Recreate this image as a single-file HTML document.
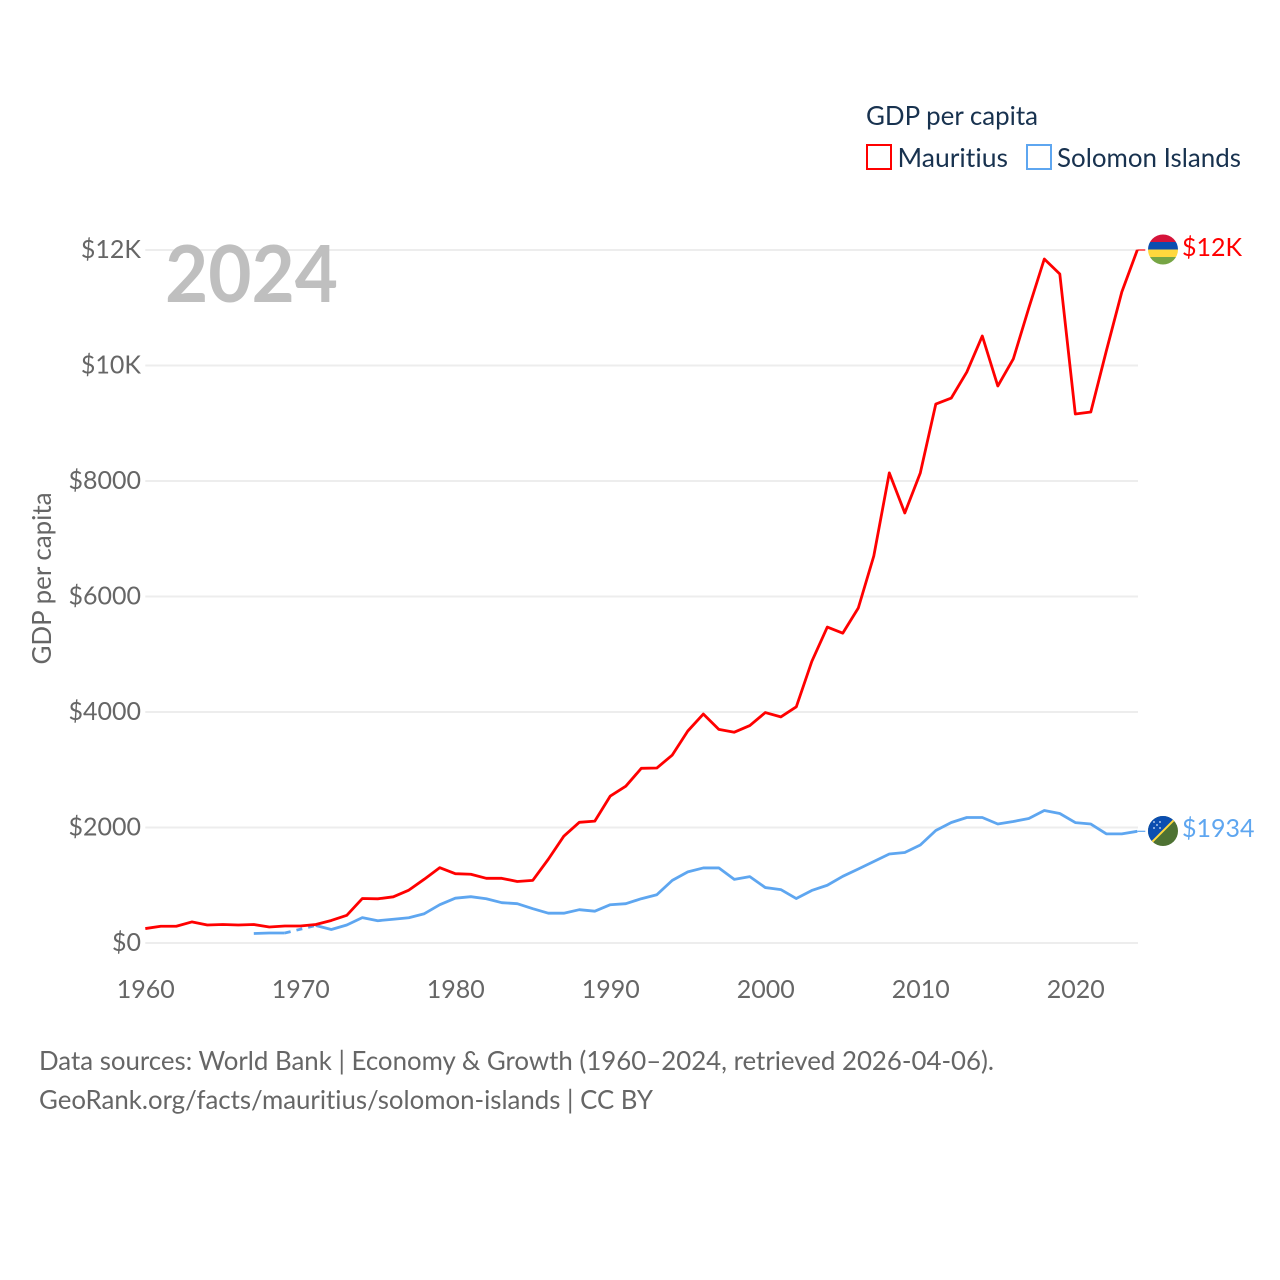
<!DOCTYPE html>
<html lang="en">
<head>
<meta charset="utf-8">
<title>GDP per capita: Mauritius and Solomon Islands</title>
<style>
html,body{margin:0;padding:0;background:#fff;width:1280px;height:1280px;overflow:hidden}
svg{display:block}
text{font-family:"Lato","Carlito","Liberation Sans",sans-serif;font-variant-ligatures:none;letter-spacing:0.001px}
</style>
</head>
<body>
<svg id="chart" xmlns="http://www.w3.org/2000/svg" width="1280" height="1280" viewBox="0 0 1280 1280">
  <defs>
    <clipPath id="clip-mu"><circle cx="1163" cy="249.5" r="15"/></clipPath>
    <clipPath id="clip-sb"><circle cx="1163" cy="831" r="15"/></clipPath>
  </defs>
  <g id="grid"></g>
  <g id="yticks"></g>
  <g id="xticks"></g>
  <text x="165" y="302" font-size="79" font-weight="700" fill="#bfbfbf" textLength="173" lengthAdjust="spacingAndGlyphs">2024</text>
  <text transform="translate(51,664.5) rotate(-90)" font-size="26" fill="#666" textLength="172" lengthAdjust="spacingAndGlyphs">GDP per capita</text>
  <g id="series"></g>

  <g>
    <text x="866" y="125" font-size="26" fill="#18324f" textLength="172" lengthAdjust="spacingAndGlyphs">GDP per capita</text>
    <g>
      <rect x="867" y="145" width="24" height="24" fill="#fff" stroke="#ff0000" stroke-width="2"/>
      <text x="897.5" y="167" font-size="26" fill="#18324f" textLength="110.5" lengthAdjust="spacingAndGlyphs">Mauritius</text>
    </g>
    <g>
      <rect x="1027" y="145" width="24" height="24" fill="#fff" stroke="#5ea6f0" stroke-width="2"/>
      <text x="1057" y="167" font-size="26" fill="#18324f" textLength="184" lengthAdjust="spacingAndGlyphs">Solomon Islands</text>
    </g>
  </g>

  <g clip-path="url(#clip-mu)">
    <rect x="1148" y="234.5" width="30" height="7.5" fill="#d5133a"/>
    <rect x="1148" y="242" width="30" height="7.5" fill="#0b4eb0"/>
    <rect x="1148" y="249.5" width="30" height="7.5" fill="#ffd83d"/>
    <rect x="1148" y="257" width="30" height="7.5" fill="#76a544"/>
  </g>
  <text x="1182" y="256" font-size="25" fill="#ff0000">$12K</text>

  <g clip-path="url(#clip-sb)">
    <rect x="1148" y="816" width="30" height="30" fill="#4e7233"/>
    <polygon points="1148,816 1178,816 1148,846" fill="#0b4eb0"/>
    <line x1="1148" y1="846" x2="1178" y2="816" stroke="#ffd83d" stroke-width="2"/>
    <g fill="#d8e6f7">
      <circle cx="1154" cy="822" r="0.9"/><circle cx="1160" cy="822" r="0.9"/><circle cx="1157" cy="825" r="0.9"/><circle cx="1154" cy="828" r="0.9"/><circle cx="1160" cy="828" r="0.9"/>
    </g>
  </g>
  <text x="1182" y="837" font-size="25" fill="#5ea6f0">$1934</text>

  <text x="39" y="1070" font-size="26" fill="#666" textLength="955" lengthAdjust="spacingAndGlyphs">Data sources: World Bank | Economy &amp; Growth (1960–2024, retrieved 2026-04-06).</text>
  <text x="39" y="1109" font-size="26" fill="#666" textLength="614" lengthAdjust="spacingAndGlyphs">GeoRank.org/facts/mauritius/solomon-islands | CC BY</text>
</svg>
<script>
const years = [1960,1961,1962,1963,1964,1965,1966,1967,1968,1969,1970,1971,1972,1973,1974,1975,1976,1977,1978,1979,1980,1981,1982,1983,1984,1985,1986,1987,1988,1989,1990,1991,1992,1993,1994,1995,1996,1997,1998,1999,2000,2001,2002,2003,2004,2005,2006,2007,2008,2009,2010,2011,2012,2013,2014,2015,2016,2017,2018,2019,2020,2021,2022,2023,2024];
const mauritiusValues = [250,290,290,365,312,320,312,320,277,294,294,320,390,480,770,765,800,915,1105,1305,1200,1190,1120,1120,1065,1085,1450,1850,2090,2110,2545,2715,3025,3030,3255,3671,3965,3700,3650,3765,3990,3915,4090,4875,5470,5365,5801,6701,8140,7446,8139,9333,9437,9887,10511,9645,10113,10996,11844,11584,9160,9195,10251,11273,12000];
const solomonValues = [null,null,null,null,null,null,null,165,173,173,null,303,234,312,440,386,412,438,507,663,776,802,767,698,681,594,516,516,577,551,663,681,767,836,1085,1232,1300,1300,1102,1150,960,925,770,910,1000,1155,1281,1411,1541,1567,1697,1948,2087,2173,2173,2061,2104,2156,2294,2242,2085,2060,1890,1890,1934];
const yTickValues = [0,2000,4000,6000,8000,10000,12000];
const yTickLabels = ["$0","$2000","$4000","$6000","$8000","$10K","$12K"];
const xTickValues = [1960,1970,1980,1990,2000,2010,2020];
const xTickLabels = ["1960","1970","1980","1990","2000","2010","2020"];

const NS = "http://www.w3.org/2000/svg";
const xScale = function (year) { return 145.3 + (year - 1960) * 15.5; };
const yScale = function (value) { return 943 - value * 0.05775; };

const gridGroup = document.getElementById("grid");
const yTickGroup = document.getElementById("yticks");
const xTickGroup = document.getElementById("xticks");
const seriesGroup = document.getElementById("series");

yTickValues.forEach(function (value, i) {
  const line = document.createElementNS(NS, "line");
  
  
  line.setAttribute("x1", xScale(1960));
  line.setAttribute("x2", xScale(2024) + 0.7);
  line.setAttribute("y1", yScale(value));
  line.setAttribute("y2", yScale(value));
  line.setAttribute("stroke", "#ededed");
  line.setAttribute("stroke-width", "2");
  gridGroup.appendChild(line);

  const label = document.createElementNS(NS, "text");
  
  
  label.setAttribute("x", 141);
  label.setAttribute("y", yScale(value) + 8);
  label.setAttribute("text-anchor", "end");
  label.setAttribute("font-size", "25");
  label.setAttribute("fill", "#666");
  label.textContent = yTickLabels[i];
  yTickGroup.appendChild(label);
});

xTickValues.forEach(function (value, i) {
  const label = document.createElementNS(NS, "text");
  
  
  label.setAttribute("x", xScale(value) + 0.4);
  label.setAttribute("y", 998);
  label.setAttribute("text-anchor", "middle");
  label.setAttribute("font-size", "25");
  label.setAttribute("fill", "#666");
  label.textContent = xTickLabels[i];
  xTickGroup.appendChild(label);
});

function solidPath(values) {
  let d = "";
  let penDown = false;
  values.forEach(function (v, i) {
    if (v === null) { penDown = false; return; }
    d += (penDown ? "L" : "M") + xScale(years[i]).toFixed(2) + " " + yScale(v).toFixed(2);
    penDown = true;
  });
  return d;
}

function gapPath(values) {
  let d = "";
  let last = -1;
  values.forEach(function (v, i) {
    if (v === null) { return; }
    if (last >= 0 && i - last > 1) {
      d += "M" + xScale(years[last]).toFixed(2) + " " + yScale(values[last]).toFixed(2) +
           "L" + xScale(years[i]).toFixed(2) + " " + yScale(v).toFixed(2);
    }
    last = i;
  });
  return d;
}

const gapSolomon = document.createElementNS(NS, "path");


gapSolomon.setAttribute("d", gapPath(solomonValues));
gapSolomon.setAttribute("fill", "none");
gapSolomon.setAttribute("stroke", "#5ea6f0");
gapSolomon.setAttribute("stroke-width", "2.8");
gapSolomon.setAttribute("stroke-dasharray", "6 6");
seriesGroup.appendChild(gapSolomon);

const lineSolomon = document.createElementNS(NS, "path");


lineSolomon.setAttribute("d", solidPath(solomonValues));
lineSolomon.setAttribute("fill", "none");
lineSolomon.setAttribute("stroke", "#5ea6f0");
lineSolomon.setAttribute("stroke-width", "2.8");
lineSolomon.setAttribute("stroke-linejoin", "round");
seriesGroup.appendChild(lineSolomon);

const lineMauritius = document.createElementNS(NS, "path");


lineMauritius.setAttribute("d", solidPath(mauritiusValues));
lineMauritius.setAttribute("fill", "none");
lineMauritius.setAttribute("stroke", "#ff0000");
lineMauritius.setAttribute("stroke-width", "2.8");
lineMauritius.setAttribute("stroke-linejoin", "round");
seriesGroup.appendChild(lineMauritius);

const lastIndex = years.length - 1;

const connectorMauritius = document.createElementNS(NS, "line");


connectorMauritius.setAttribute("x1", xScale(years[lastIndex]));
connectorMauritius.setAttribute("x2", xScale(years[lastIndex]) + 8);
connectorMauritius.setAttribute("y1", yScale(mauritiusValues[lastIndex]));
connectorMauritius.setAttribute("y2", yScale(mauritiusValues[lastIndex]));
connectorMauritius.setAttribute("stroke", "#ff0000");
connectorMauritius.setAttribute("stroke-width", "1.2");
seriesGroup.appendChild(connectorMauritius);

const connectorSolomon = document.createElementNS(NS, "line");


connectorSolomon.setAttribute("x1", xScale(years[lastIndex]));
connectorSolomon.setAttribute("x2", xScale(years[lastIndex]) + 8);
connectorSolomon.setAttribute("y1", yScale(solomonValues[lastIndex]));
connectorSolomon.setAttribute("y2", yScale(solomonValues[lastIndex]));
connectorSolomon.setAttribute("stroke", "#5ea6f0");
connectorSolomon.setAttribute("stroke-width", "1.2");
seriesGroup.appendChild(connectorSolomon);
</script>
</body>
</html>
